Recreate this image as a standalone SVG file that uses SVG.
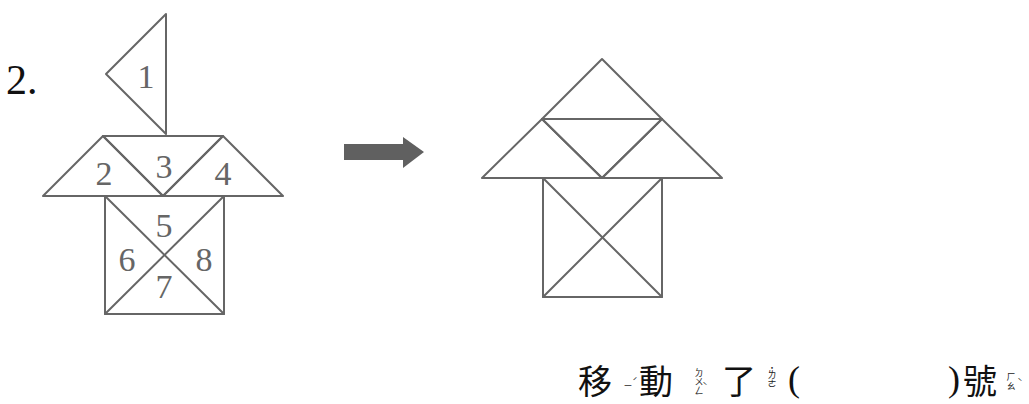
<svg xmlns="http://www.w3.org/2000/svg" width="1029" height="404" viewBox="0 0 1029 404">
<style>
.ln{fill:none;stroke:#666;stroke-width:2;stroke-linejoin:round;stroke-linecap:round}
.num{font-family:"Liberation Serif","Times New Roman",serif;font-size:34px;fill:#666;text-anchor:middle}
.title{font-family:"Liberation Serif","Times New Roman",serif;font-size:42px;fill:#111}
.cjk{font-family:"Noto Sans CJK TC","Noto Sans CJK SC",sans-serif;font-size:34px;fill:#111;text-anchor:middle}
.zy{font-family:"Noto Sans CJK TC","Noto Sans CJK SC",sans-serif;font-size:9px;fill:#222;text-anchor:middle}
.zyv{font-family:"Noto Sans CJK TC","Noto Sans CJK SC",sans-serif;font-size:9px;fill:#222;writing-mode:vertical-rl;text-orientation:upright}
.par{font-family:"Liberation Serif","Times New Roman",serif;font-size:36px;fill:#111;text-anchor:middle}
</style>
<rect width="1029" height="404" fill="#fff"/>
<text class="title" x="6" y="94">2.</text>
<g id="left-figure">
  <g id="piece1"><polygon class="ln" points="166,14 106,74 166,134"/><text class="num" x="146" y="88">1</text></g>
  <g id="piece2"><polygon class="ln" points="103,136 43,196 163,196"/><text class="num" x="104" y="185">2</text></g>
  <g id="piece3"><polygon class="ln" points="103,136 223,136 163,196"/><text class="num" x="164" y="178">3</text></g>
  <g id="piece4"><polygon class="ln" points="223,136 283,196 163,196"/><text class="num" x="223" y="185">4</text></g>
  <g id="square-left">
    <rect class="ln" x="105" y="196" width="119" height="118"/>
    <line class="ln" x1="105" y1="196" x2="224" y2="314"/>
    <line class="ln" x1="224" y1="196" x2="105" y2="314"/>
    <text class="num" x="164" y="237">5</text>
    <text class="num" x="127" y="271">6</text>
    <text class="num" x="204" y="271">8</text>
    <text class="num" x="164" y="298">7</text>
  </g>
</g>
<g id="connectors">
  <polygon id="arrow" points="344,144 403,144 403,137 424,152 403,168 403,160 344,160" fill="#606060"/>
</g>
<g id="right-figure">
  <polygon class="ln" points="602,59 542,119 662,119"/>
  <polygon class="ln" points="542,119 482,178 602,178"/>
  <polygon class="ln" points="542,119 662,119 602,178"/>
  <polygon class="ln" points="662,119 722,178 602,178"/>
  <rect class="ln" x="543" y="178" width="119" height="119"/>
  <line class="ln" x1="543" y1="178" x2="662" y2="297"/>
  <line class="ln" x1="662" y1="178" x2="543" y2="297"/>
</g>
<g id="caption">
  <text class="cjk" x="595" y="394">移</text>
  <text class="zy" x="628" y="389">ㄧ</text><text class="zy" x="635" y="385">ˊ</text>
  <text class="cjk" x="656" y="394">動</text>
  <text class="zyv" x="699" y="368">ㄉㄨㄥ</text><text class="zy" x="705" y="390">ˋ</text>
  <text class="cjk" x="739" y="394">了</text>
  <text class="zyv" x="772" y="366">˙ㄌㄜ</text>
  <text class="par" x="794" y="391">(</text>
  <text class="par" x="954" y="391">)</text>
  <text class="cjk" x="980" y="394">號</text>
  <text class="zyv" x="1011" y="372">ㄏㄠ</text><text class="zy" x="1020" y="386">ˋ</text>
</g>
</svg>
